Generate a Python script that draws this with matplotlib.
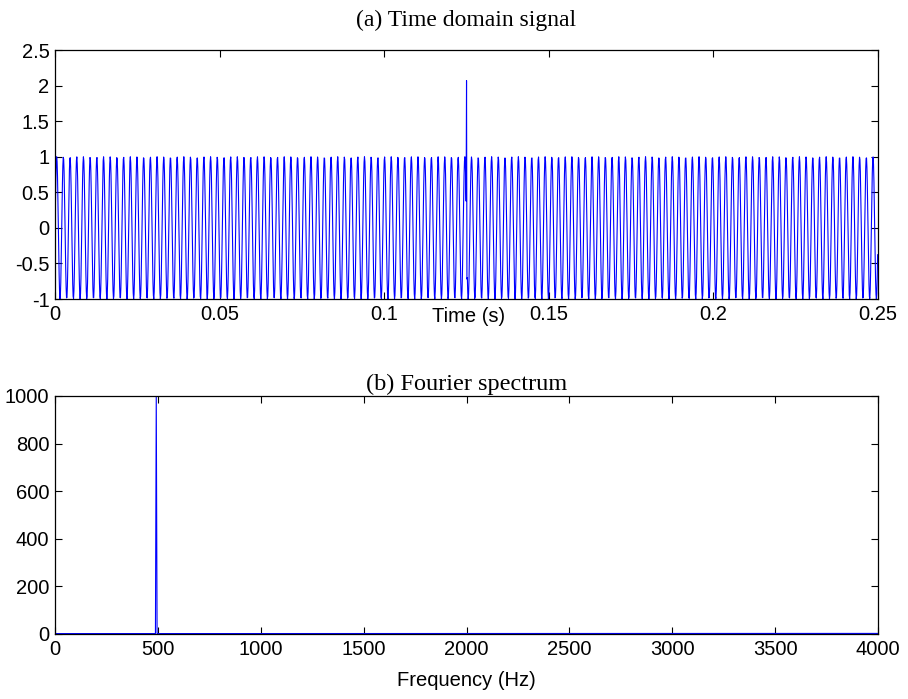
import numpy as np
import matplotlib
matplotlib.use('Agg')
import matplotlib.pyplot as plt

plt.rcParams['font.family'] = ['Liberation Sans', 'DejaVu Sans']
plt.rcParams['axes.unicode_minus'] = False

# signal parameters
fs = 8000            # Hz, spectrum axis ends at fs/2 = 4000
duration = 0.25      # s
tone_freq = 492      # Hz, spectral peak just below 500
tone_amp = 1.0
spike_index = [1000, 1001]       # the glitch at t = 0.125 s
spike_values = [2.07, -0.72]

time_ticks = [0, 0.05, 0.1, 0.15, 0.2, 0.25]
time_yticks = [-1, -0.5, 0, 0.5, 1, 1.5, 2, 2.5]
freq_ticks = [0, 500, 1000, 1500, 2000, 2500, 3000, 3500, 4000]
freq_yticks = [0, 200, 400, 600, 800, 1000]

n = int(fs * duration)
t = np.arange(n) / fs
x = tone_amp * np.sin(2 * np.pi * tone_freq * t)
x[spike_index] = spike_values

spec = np.abs(np.fft.rfft(x))
freqs = np.fft.rfftfreq(n, 1 / fs)

FS = 14.5


def style(ax):
    ax.tick_params(direction='in', length=5, width=0.8, top=True, right=True,
                   labelsize=FS, colors='black', pad=4)
    for sp in ax.spines.values():
        sp.set_linewidth(0.9)


fig = plt.figure(figsize=(9.08, 6.99), dpi=100)
ax1 = fig.add_axes([0.0606, 0.5722, 0.9064, 0.3562])
ax2 = fig.add_axes([0.0606, 0.0930, 0.9064, 0.3405])

ax1.plot(t, x, color='blue', linewidth=0.8)
ax1.set_xlim(0, 0.25)
ax1.set_ylim(-1, 2.5)
ax1.set_xticks(time_ticks)
ax1.set_xticklabels(['%g' % v for v in time_ticks])
ax1.set_yticks(time_yticks)
ax1.set_yticklabels(['%g' % v for v in time_yticks])
style(ax1)
ax1.set_title('(a) Time domain signal', family='Liberation Serif', fontsize=17, pad=17)
ax1.text(0.502, -0.07, 'Time (s)', transform=ax1.transAxes, ha='center', va='center', fontsize=FS)

ax2.plot(freqs, spec, color='blue', linewidth=0.8)
ax2.set_xlim(0, 4000)
ax2.set_ylim(0, 1000)
ax2.set_xticks(freq_ticks)
ax2.set_xticklabels(['%g' % v for v in freq_ticks])
ax2.set_yticks(freq_yticks)
ax2.set_yticklabels(['%g' % v for v in freq_yticks])
style(ax2)
ax2.set_title('(b) Fourier spectrum', family='Liberation Serif', fontsize=17.5, pad=4)
ax2.set_xlabel('Frequency (Hz)', fontsize=FS, labelpad=9)

fig.savefig('out.png', dpi=100)
